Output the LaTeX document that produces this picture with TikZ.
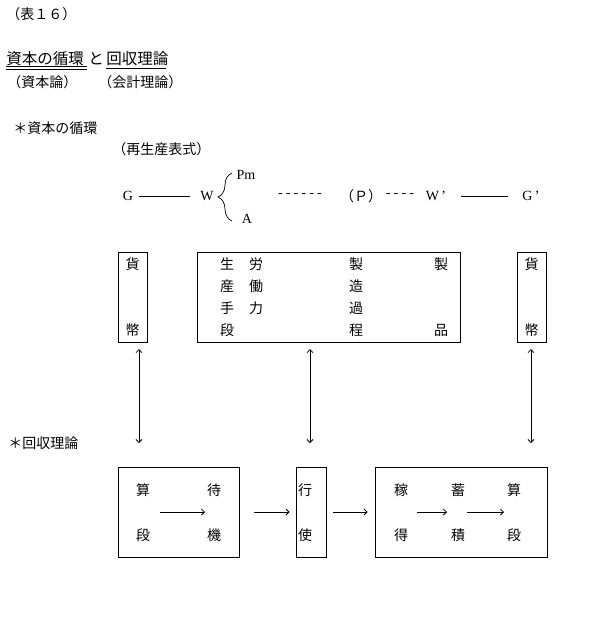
\documentclass[tikz,border=0pt]{standalone}
\usepackage{fontspec}
\setmainfont{Liberation Serif}
\newfontfamily\jp{Noto Sans CJK JP}
\newfontfamily\mono{Liberation Mono}
\usetikzlibrary{arrows.meta,decorations.pathreplacing}

\tikzset{
  box/.style={draw, inner sep=0pt},
  jt/.style={font=\jp\fontsize{14}{16}\selectfont, inner sep=0pt},
  ttl/.style={font=\jp\fontsize{15.5}{17}\selectfont, inner sep=0pt},
  ft/.style={font=\fontsize{14}{16}\selectfont, inner sep=0pt},
  mt/.style={font=\mono\fontsize{13}{15}\selectfont, inner sep=0pt},
}

\begin{document}
\begin{tikzpicture}[x=1pt, y=-1pt, line width=0.8pt, >={Straight Barb[length=3pt,width=6pt]}]
\useasboundingbox (0,0) rectangle (605,643);

% Heading
\node[jt, anchor=west] (num) at (6,14) {（表１６）};
\node[ttl, anchor=west] (t1) at (6,59) {資本の循環};
\node[ttl] (and) at (96,59) {と};
\node[ttl, anchor=west] (t2) at (106,59) {回収理論};
\draw ([yshift=-2pt]t1.base west) -- ++(81,0);
\draw ([yshift=-4.5pt]t1.base west) -- ++(81,0);
\draw ([yshift=-4pt]t2.base west) -- ++(60,0);
\node[jt, anchor=west] (s1) at (7,82) {（資本論）};
\node[jt, anchor=west] (s2) at (98,82) {（会計理論）};

\node[jt, anchor=west] (h1) at (13,128) {＊資本の循環};
\node[jt, anchor=west] (h2) at (112,149) {（再生産表式）};

% Formula
\node[ft] (G) at (128,196) {G};
\node[ft] (W) at (207,196) {W};
\draw[shorten <=6pt, shorten >=10pt] (G) -- (W);
\coordinate (bb) at (232,221);
\coordinate (bt) at (232,173);
\draw[line width=0.7pt, decorate, decoration={brace, amplitude=14pt}] (bb) -- (bt);
\node[ft] (Pm) at (246,175) {Pm};
\node[ft] (A) at (247,219) {A};
\node[mt] (d1) at (300,196) {------};
\node[jt] (P) at (361,196) {（Ｐ）};
\node[mt] (d2) at (400,196) {----};
\node[ft] (W2) at (436,196) {W\,’};
\node[ft] (G2) at (531,196) {G\,’};
\draw[shorten <=14pt, shorten >=14pt] (W2) -- (G2);

% Upper boxes
\node[box, minimum width=29, minimum height=90] (kl) at (132.5,297) {};
\node[box, minimum width=263, minimum height=90] (pm) at (328.5,297) {};
\node[box, minimum width=29, minimum height=90] (kr) at (531.5,297) {};
\node[jt] (kl1) at (132.5,264) {貨};
\node[jt] (kl2) at (132.5,330) {幣};
\node[jt] (kr1) at (531.5,264) {貨};
\node[jt] (kr2) at (531.5,330) {幣};
\foreach \ch/\x/\y [count=\i] in {生/227/264, 産/227/286, 手/227/308, 段/227/330,
    労/256/264, 働/256/286, 力/256/308,
    製/356/264, 造/356/286, 過/356/308, 程/356/330,
    製/441/264, 品/441/330}
  \node[jt] (c\i) at (\x,\y) {\ch};

% Vertical arrows
\foreach \x [count=\i] in {139,310,531} {
  \coordinate (v\i t) at (\x,349);
  \coordinate (v\i b) at (\x,443);
  \draw[<->] (v\i t) -- (v\i b);
}

\node[jt, anchor=west] (h3) at (8,443) {＊回収理論};

% Lower boxes
\node[box, minimum width=121, minimum height=90] (lb) at (178.5,512) {};
\node[box, minimum width=30, minimum height=90] (mb) at (311,512) {};
\node[box, minimum width=172, minimum height=90] (rb) at (461,512) {};
\draw[->] ([xshift=15pt]lb.east) -- ([xshift=-6pt]mb.west);
\draw[->] ([xshift=7pt]mb.east) -- ([xshift=-7pt]rb.west);

\foreach \ch/\x/\y [count=\i] in {算/143/490, 待/214/490, 段/143/535, 機/214/535,
    行/305/490, 使/305/535,
    稼/401/490, 蓄/458/490, 算/514/490, 得/401/535, 積/458/535, 段/514/535}
  \node[jt] (b\i) at (\x,\y) {\ch};

% Arrows inside boxes
\coordinate (i1s) at (160,512);
\coordinate (i1e) at (205,512);
\coordinate (i2s) at (417,512);
\coordinate (i2e) at (447,512);
\coordinate (i3s) at (467,512);
\coordinate (i3e) at (504,512);
\draw[->] (i1s) -- (i1e);
\draw[->] (i2s) -- (i2e);
\draw[->] (i3s) -- (i3e);
\end{tikzpicture}
\end{document}
